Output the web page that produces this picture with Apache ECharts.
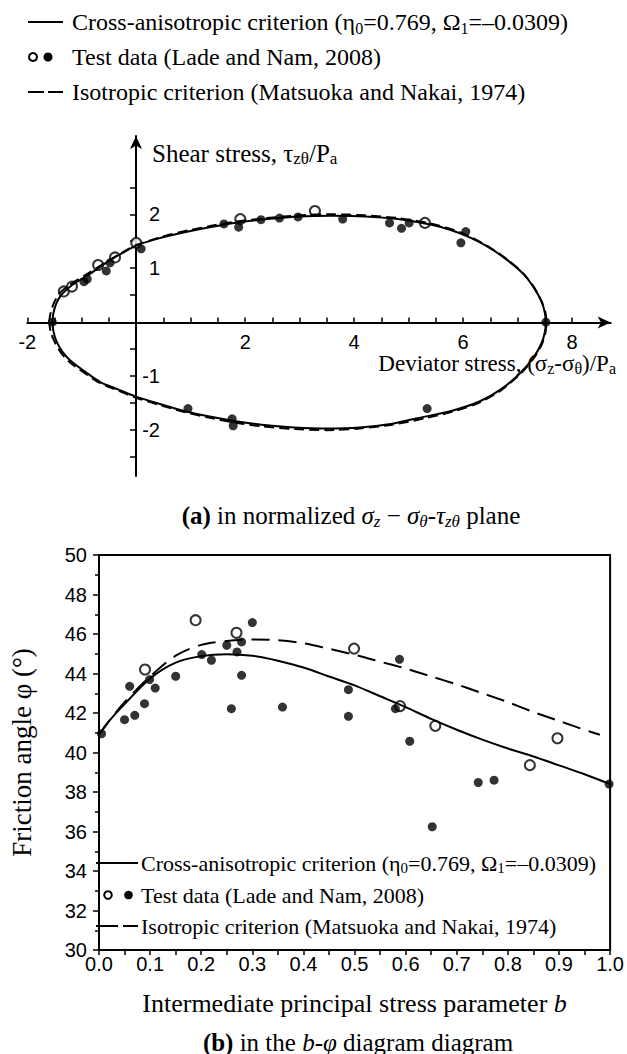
<!DOCTYPE html>
<html><head><meta charset="utf-8">
<script src="https://cdn.jsdelivr.net/npm/echarts@6/dist/echarts.min.js"></script>
<style>html,body{margin:0;padding:0;background:#fff}#c{width:627px;height:1054px}</style>
</head><body><div id="c"></div>
<script>
// ---------- Panel (a): normalized sigma_z - sigma_theta / tau_ztheta plane ----------
const aSolidUpper = [[-1.54,0],[-1.52,0.17],[-1.47,0.34],[-1.38,0.5],[-1.25,0.63],[-1.1,0.74],[-0.9,0.86],[-0.7,1.0],[-0.48,1.15],[-0.24,1.29],[0,1.42],[0.3,1.52],[0.6,1.6],[1.0,1.69],[1.4,1.77],[1.8,1.84],[2.4,1.91],[3.0,1.96],[3.6,1.97],[4.2,1.96],[4.8,1.91],[5.4,1.81],[5.8,1.7],[6.1,1.58],[6.45,1.4],[6.8,1.16],[7.1,0.9],[7.3,0.64],[7.44,0.38],[7.5,0.18],[7.52,0]];
const aSolidLower = [[7.52,0],[7.5,-0.19],[7.44,-0.39],[7.3,-0.64],[7.05,-0.94],[6.7,-1.24],[6.3,-1.47],[5.8,-1.64],[5.3,-1.75],[4.7,-1.88],[4.1,-1.95],[3.5,-1.97],[2.9,-1.95],[2.3,-1.9],[1.8,-1.83],[1.3,-1.74],[0.9,-1.65],[0.45,-1.52],[0,-1.38],[-0.35,-1.24],[-0.66,-1.11],[-0.95,-0.91],[-1.2,-0.72],[-1.36,-0.54],[-1.47,-0.34],[-1.52,-0.17],[-1.54,0]];
const aDashUpper = [[-1.6,0],[-1.57,0.18],[-1.51,0.36],[-1.42,0.52],[-1.28,0.65],[-1.12,0.76],[-0.92,0.88],[-0.7,1.02],[-0.48,1.16],[-0.24,1.3],[0,1.43],[0.3,1.53],[0.6,1.62],[1.0,1.71],[1.4,1.79],[1.8,1.86],[2.4,1.93],[3.0,1.98],[3.6,2.0],[4.2,1.98],[4.8,1.93],[5.4,1.83],[5.8,1.72],[6.1,1.6],[6.45,1.41],[6.8,1.17],[7.1,0.91],[7.3,0.65],[7.44,0.39],[7.51,0.19],[7.53,0]];
const aDashLower = [[7.53,0],[7.51,-0.2],[7.45,-0.4],[7.31,-0.65],[7.06,-0.95],[6.7,-1.26],[6.3,-1.49],[5.8,-1.66],[5.3,-1.78],[4.7,-1.9],[4.1,-1.97],[3.5,-2.0],[2.9,-1.98],[2.3,-1.93],[1.8,-1.86],[1.3,-1.76],[0.9,-1.67],[0.45,-1.54],[0,-1.4],[-0.35,-1.26],[-0.66,-1.13],[-0.95,-0.94],[-1.2,-0.76],[-1.38,-0.57],[-1.5,-0.36],[-1.57,-0.18],[-1.6,0]];
const aTestOpen = [[-1.33,0.57],[-1.18,0.66],[-0.7,1.06],[-0.39,1.2],[0.0,1.47],[1.91,1.91],[3.28,2.06],[5.3,1.84]];
const aTestFilled = [[-1.54,0],[-0.96,0.75],[-0.9,0.8],[-0.55,0.95],[-0.48,1.1],[0.09,1.36],[1.61,1.82],[1.88,1.76],[2.29,1.9],[2.63,1.93],[2.97,1.95],[3.79,1.91],[4.65,1.84],[4.87,1.74],[5.01,1.84],[5.96,1.47],[6.05,1.68],[7.52,0],[0.95,-1.6],[1.76,-1.79],[1.78,-1.92],[5.34,-1.6]];
const aXTickMarks = [-2,-1.5,-1,-0.5,0.5,1,1.5,2,2.5,3,3.5,4,4.5,5,5.5,6,6.5,7,7.5,8];
const aXTickLabels = [-2,2,4,6,8];
const aYTickMarks = [-2.5,-2,-1.5,-1,-0.5,0.5,1,1.5,2,2.5];
const aYTickLabels = [-2,-1,1,2];

// ---------- Panel (b): b - phi diagram ----------
const bParam = [0,0.02,0.05,0.1,0.15,0.2,0.25,0.3,0.35,0.4,0.45,0.5,0.55,0.6,0.65,0.7,0.75,0.8,0.85,0.9,0.95,1.0];
const bSolid = [40.9,41.6,42.45,43.75,44.55,44.88,44.98,44.9,44.65,44.3,43.85,43.4,42.85,42.3,41.7,41.15,40.65,40.2,39.8,39.35,38.9,38.4];
const bDashParam = [0,0.02,0.05,0.1,0.15,0.2,0.25,0.3,0.35,0.4,0.45,0.5,0.55,0.6,0.65,0.7,0.75,0.8,0.85,0.9,0.95,0.98];
const bDash = [40.9,41.6,42.55,43.85,44.9,45.45,45.65,45.72,45.68,45.53,45.25,44.95,44.6,44.25,43.85,43.45,43.0,42.55,42.05,41.6,41.15,40.9];
const bTestOpen = [[0.09,44.2],[0.189,46.7],[0.269,46.06],[0.499,45.26],[0.589,42.35],[0.658,41.35],[0.843,39.36],[0.897,40.72]];
const bTestFilled = [[0.005,40.95],[0.05,41.66],[0.06,43.35],[0.07,41.88],[0.089,42.47],[0.099,43.69],[0.11,43.26],[0.15,43.86],[0.201,44.96],[0.22,44.67],[0.25,45.43],[0.259,42.22],[0.27,45.09],[0.279,45.6],[0.279,43.91],[0.3,46.58],[0.359,42.3],[0.488,43.18],[0.488,41.83],[0.58,42.22],[0.588,44.72],[0.608,40.57],[0.652,36.24],[0.742,38.48],[0.773,38.6],[0.998,38.4]];

const NAME_SOLID = 'Cross-anisotropic criterion (η0=0.769, Ω1=–0.0309)';
const NAME_TEST = 'Test data (Lade and Nam, 2008)';
const NAME_ISO = 'Isotropic criterion (Matsuoka and Nakai, 1974)';

const SERIF = '"Liberation Serif", "Times New Roman", serif';
const SANS = '"Liberation Sans", Arial, sans-serif';

function subRich(size, lh) {
  return {
    s: {fontSize: size, fontFamily: SERIF, fill: '#000', color: '#000', lineHeight: lh, verticalAlign: 'bottom'},
    i: {fontSize: size + 8, fontFamily: SERIF, fontStyle: 'italic', fill: '#000', color: '#000'},
    b: {fontSize: size + 8, fontFamily: SERIF, fontWeight: 'bold', fill: '#000', color: '#000'}
  };
}

function legendGroup(x0, x1, xc1, xc2, xt, ys, fs, r, dash) {
  const richS = subRich(Math.round(fs * 0.68), Math.round(fs * 0.55));
  const txt = (y, t) => ({type: 'text', x: xt, y: y, style: {text: t, font: fs + 'px ' + SERIF, fill: '#000', align: 'left', verticalAlign: 'middle', lineHeight: Math.round(fs * 1.15), rich: richS}});
  return [
    {type: 'line', shape: {x1: x0, y1: ys[0], x2: x1, y2: ys[0]}, style: {stroke: '#000', lineWidth: 2}},
    txt(ys[0], 'Cross-anisotropic criterion (η{s|0}=0.769, Ω{s|1}=–0.0309)'),
    {type: 'circle', shape: {cx: xc1, cy: ys[1], r: r}, style: {fill: '#fff', stroke: '#000', lineWidth: 2}},
    {type: 'circle', shape: {cx: xc2, cy: ys[1], r: r + 0.5}, style: {fill: '#000'}},
    txt(ys[1], 'Test data (Lade and Nam, 2008)'),
    {type: 'line', shape: {x1: x0, y1: ys[2], x2: x1, y2: ys[2]}, style: {stroke: '#000', lineWidth: 2, lineDash: dash}},
    txt(ys[2], 'Isotropic criterion (Matsuoka and Nakai, 1974)')
  ];
}

const chart = echarts.init(document.getElementById('c'), null, {renderer: 'svg'});

// panel (a) grid geometry: x from -2 (px 27.3) to 8.71 (px 610.7); y from -2.85 (px 476) to 3.45 (px 136)
const A_LEFT = 27.3, A_TOP = 136, A_BOTTOM_PX = 476;
const A_ZERO_X = 136, A_ZERO_Y = 322.5;

const richA = subRich(17, 14);
const option = {
  animation: false,
  backgroundColor: '#fff',
  grid: [
    {left: A_LEFT, right: 16.3, top: A_TOP, bottom: 1054 - A_BOTTOM_PX},
    {left: 87, right: 15, top: 555, bottom: 104, show: true, borderColor: '#000', borderWidth: 2, backgroundColor: 'transparent'}
  ],
  xAxis: [
    {gridIndex: 0, type: 'value', min: -2, max: 8.71, position: 'bottom', offset: -(A_BOTTOM_PX - A_ZERO_Y),
     axisLine: {onZero: false, lineStyle: {color: '#000', width: 2}, symbol: ['none', 'arrow'], symbolSize: [9, 13]},
     axisTick: {show: true, inside: true, length: 5, lineStyle: {color: '#000', width: 1.5}, customValues: aXTickMarks},
     axisLabel: {customValues: aXTickLabels, fontSize: 20, color: '#000', fontFamily: SANS, margin: 9},
     splitLine: {show: false}},
    {gridIndex: 1, type: 'value', min: 0, max: 1, interval: 0.1,
     name: 'Intermediate principal stress parameter {bi|b}', nameLocation: 'middle', nameGap: 40,
     nameTextStyle: {fontSize: 26, fontFamily: SERIF, color: '#000', rich: {bi: {fontSize: 26, fontFamily: SERIF, fontStyle: 'italic', color: '#000'}}},
     axisLine: {onZero: false, lineStyle: {color: '#000', width: 2}},
     axisTick: {show: true, inside: false, length: 5, lineStyle: {color: '#000', width: 1.5}},
     minorTick: {show: true, splitNumber: 2, length: 5, lineStyle: {color: '#000', width: 1.5}},
     axisLabel: {fontSize: 20, color: '#000', fontFamily: SANS, margin: 4, formatter: v => v.toFixed(1)},
     splitLine: {show: false}}
  ],
  yAxis: [
    {gridIndex: 0, type: 'value', min: -2.85, max: 3.45, position: 'left', offset: -(A_ZERO_X - A_LEFT),
     axisLine: {onZero: false, lineStyle: {color: '#000', width: 2}, symbol: ['none', 'arrow'], symbolSize: [9, 13]},
     axisTick: {show: true, inside: false, length: 6, lineStyle: {color: '#000', width: 1.5}, customValues: aYTickMarks},
     axisLabel: {inside: true, align: 'right', customValues: aYTickLabels, fontSize: 20, color: '#000', fontFamily: SANS, margin: 24},
     splitLine: {show: false}},
    {gridIndex: 1, type: 'value', min: 30, max: 50, interval: 2,
     name: 'Friction angle φ (°)', nameLocation: 'middle', nameGap: 64, nameRotate: 90,
     nameTextStyle: {fontSize: 27, fontFamily: SERIF, color: '#000'},
     axisLine: {onZero: false, lineStyle: {color: '#000', width: 2}},
     axisTick: {show: true, inside: false, length: 6, lineStyle: {color: '#000', width: 1.5}},
     minorTick: {show: true, splitNumber: 2, length: 4, lineStyle: {color: '#000', width: 1.5}},
     axisLabel: {fontSize: 20, color: '#000', fontFamily: SANS, margin: 12},
     splitLine: {show: false}}
  ],
  series: [
    {name: NAME_ISO, type: 'line', xAxisIndex: 0, yAxisIndex: 0, data: aDashUpper.concat(aDashLower), smooth: 0.25, symbol: 'none',
     lineStyle: {color: '#000', width: 2, type: [10, 5]}},
    {name: NAME_SOLID, type: 'line', xAxisIndex: 0, yAxisIndex: 0, data: aSolidUpper.concat(aSolidLower), smooth: 0.25, symbol: 'none',
     lineStyle: {color: '#000', width: 2}},
    {name: NAME_TEST + ' (open)', type: 'scatter', xAxisIndex: 0, yAxisIndex: 0, data: aTestOpen, symbol: 'circle', symbolSize: 10,
     itemStyle: {color: '#fff', borderColor: '#000', borderWidth: 2}},
    {name: NAME_TEST, type: 'scatter', xAxisIndex: 0, yAxisIndex: 0, data: aTestFilled, symbol: 'circle', symbolSize: 9,
     itemStyle: {color: '#000'}},

    {name: NAME_ISO + ' ', type: 'line', xAxisIndex: 1, yAxisIndex: 1, data: bDashParam.map((b, i) => [b, bDash[i]]), smooth: 0.3, symbol: 'none',
     lineStyle: {color: '#000', width: 2, type: [18, 9]}},
    {name: NAME_SOLID + ' ', type: 'line', xAxisIndex: 1, yAxisIndex: 1, data: bParam.map((b, i) => [b, bSolid[i]]), smooth: 0.3, symbol: 'none',
     lineStyle: {color: '#000', width: 2}},
    {name: NAME_TEST + ' (open) ', type: 'scatter', xAxisIndex: 1, yAxisIndex: 1, data: bTestOpen, symbol: 'circle', symbolSize: 10,
     itemStyle: {color: '#fff', borderColor: '#000', borderWidth: 2}},
    {name: NAME_TEST + ' ', type: 'scatter', xAxisIndex: 1, yAxisIndex: 1, data: bTestFilled, symbol: 'circle', symbolSize: 9,
     itemStyle: {color: '#000'}}
  ],
  graphic: [].concat(
    legendGroup(28, 63, 33, 48, 72, [22, 57, 92], 24, 4, [16, 4]),
    legendGroup(96, 138, 108, 128.5, 141, [863, 895, 926], 22, 3.8, [22, 5]),
    [
      {type: 'text', x: 152, y: 153, style: {text: 'Shear stress, τ{s|zθ}/P{s|a}', font: '25px ' + SERIF, fill: '#000', align: 'left', verticalAlign: 'middle', lineHeight: 28, rich: richA}},
      {type: 'text', x: 616, y: 363, style: {text: 'Deviator stress, (σ{s|z}-σ{s|θ})/P{s|a}', font: '23px ' + SERIF, fill: '#000', align: 'right', verticalAlign: 'middle', lineHeight: 26, rich: subRich(16, 13)}},
      {type: 'text', x: 351, y: 515, style: {text: '{b|(a)} in normalized {i|σ}{s|z} − {i|σ}{s|θ}-{i|τ}{s|zθ} plane', font: '25px ' + SERIF, fill: '#000', align: 'center', verticalAlign: 'middle', lineHeight: 30, rich: {
        s: {fontSize: 17, fontFamily: SERIF, fontStyle: 'italic', fill: '#000', lineHeight: 15, verticalAlign: 'bottom'},
        i: {fontSize: 25, fontFamily: SERIF, fontStyle: 'italic', fill: '#000'},
        b: {fontSize: 25, fontFamily: SERIF, fontWeight: 'bold', fill: '#000'}}}},
      {type: 'text', x: 358, y: 1042, style: {text: '{b|(b)} in the {i|b}-{i|φ} diagram diagram', font: '25px ' + SERIF, fill: '#000', align: 'center', verticalAlign: 'middle', lineHeight: 30, rich: {
        i: {fontSize: 25, fontFamily: SERIF, fontStyle: 'italic', fill: '#000'},
        b: {fontSize: 25, fontFamily: SERIF, fontWeight: 'bold', fill: '#000'}}}}
    ]
  )
};
chart.setOption(option);
</script>
</body></html>
